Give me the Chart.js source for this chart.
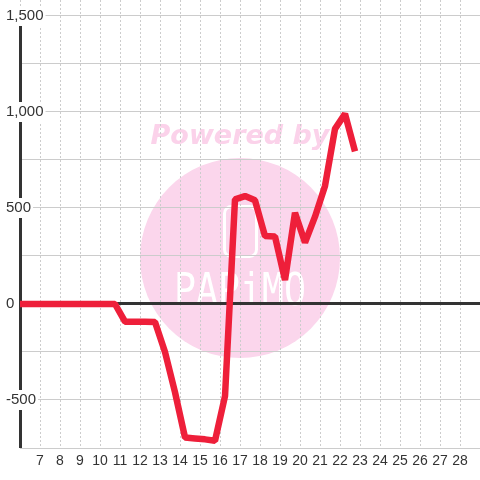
<!DOCTYPE html>
<html><head><meta charset="utf-8">
<script src="https://cdn.jsdelivr.net/npm/chart.js@4/dist/chart.umd.min.js"></script>
<style>html,body{margin:0;padding:0;background:#fff}#wrap{width:480px;height:480px}</style>
</head><body><div id="wrap"><canvas id="c" width="480" height="480"></canvas></div>
<script>
// ---- data ----
const xValues = [5.75, 6.25, 6.75, 7.25, 7.75, 8.25, 8.75, 9.25, 9.75, 10.25, 10.75,
  11.25, 11.75, 12.25, 12.75, 13.25, 13.75, 14.25, 14.75, 15.25, 15.75, 16.25,
  16.75, 17.25, 17.75, 18.25, 18.75, 19.25, 19.75, 20.25, 20.75, 21.25, 21.75, 22.25, 22.75];
const yValues = [0, 0, 0, 0, 0, 0, 0, 0, 0, 0, 0,
  -92, -92, -92, -94, -250, -460, -695, -700, -705, -712, -480,
  545, 562, 540, 354, 352, 125, 475, 320, 455, 615, 912, 990, 795];
const xTickValues = [7, 8, 9, 10, 11, 12, 13, 14, 15, 16, 17, 18, 19, 20, 21, 22, 23, 24, 25, 26, 27, 28];
const xTickLabels = ['7','8','9','10','11','12','13','14','15','16','17','18','19','20','21','22','23','24','25','26','27','28'];
const yTickValues = [-500, 0, 500, 1000, 1500];
const yTickLabels = ['-500', '0', '500', '1,000', '1,500'];
const watermarkTop = 'Powered by';
const watermarkBrand = 'PAPiMO';

const FONT = '"Liberation Sans", Arial, sans-serif';

const watermark = {
  id: 'wm',
  beforeDraw(chart) {
    const ctx = chart.ctx;
    ctx.save();
    ctx.fillStyle = '#ffffff';
    ctx.fillRect(0, 0, chart.width, chart.height);
    ctx.fillStyle = 'rgb(251,214,236)';
    ctx.beginPath(); ctx.arc(240, 258, 100, 0, Math.PI * 2); ctx.fill();
    ctx.font = 'italic bold 27px "DejaVu Sans"';
    ctx.textAlign = 'center'; ctx.textBaseline = 'alphabetic';
    ctx.fillStyle = 'rgb(251,210,234)';
    ctx.fillText(watermarkTop, 240, 144);
    ctx.strokeStyle = '#ffffff'; ctx.lineWidth = 3;
    ctx.beginPath();
    if (ctx.roundRect) ctx.roundRect(224.5, 206.5, 32, 50, 7); else ctx.rect(224.5, 206.5, 32, 50);
    ctx.stroke();
    ctx.fillStyle = '#ffffff';
    ctx.font = '44px "DejaVu Sans Mono"';
    const w = ctx.measureText(watermarkBrand).width;
    ctx.translate(240, 305);
    ctx.scale(132 / w, 1);
    ctx.fillText(watermarkBrand, 0, 0);
    ctx.restore();
  }
};

const axisLine = {
  id: 'axisLine',
  beforeDatasetsDraw(chart) {
    const ctx = chart.ctx, a = chart.chartArea, ys = chart.scales.y;
    ctx.save();
    ctx.strokeStyle = '#333333'; ctx.lineWidth = 3;
    ctx.beginPath();
    ctx.moveTo(a.left + 0.5, ys.getPixelForValue(yTickValues[yTickValues.length - 1]));
    ctx.lineTo(a.left + 0.5, a.bottom);
    ctx.stroke();
    ctx.restore();
  }
};

new Chart(document.getElementById('c'), {
  type: 'line',
  data: {
    datasets: [{
      data: xValues.map((x, i) => ({ x: x, y: yValues[i] })),
      borderColor: '#ee1f3a',
      borderWidth: 6.5,
      pointRadius: 0,
      tension: 0,
      borderJoinStyle: 'bevel',
      borderCapStyle: 'butt',
      fill: false
    }]
  },
  options: {
    responsive: false,
    animation: false,
    devicePixelRatio: 1,
    layout: { padding: { left: 6, top: 0, right: 0, bottom: 0 } },
    plugins: { legend: { display: false }, tooltip: { enabled: false } },
    scales: {
      x: {
        type: 'linear', min: 6, max: 29,
        ticks: {
          stepSize: 1, autoSkip: false, maxRotation: 0, minRotation: 0, padding: 5,
          color: '#333333', font: { family: FONT, size: 14 },
          callback: (v) => { const i = xTickValues.indexOf(v); return i >= 0 ? xTickLabels[i] : ''; }
        },
        grid: { color: '#cccccc', lineWidth: 1, drawTicks: false },
        border: { display: false, dash: [2, 2] },
        afterFit(s) { s.height = 32; s.paddingLeft = 0; s.paddingRight = 0; }
      },
      y: {
        type: 'linear', min: -750, max: 1583.333,
        ticks: {
          stepSize: 250, includeBounds: false, autoSkip: false, mirror: true, padding: -14, z: 1,
          color: '#333333', font: { family: FONT, size: 15 },
          showLabelBackdrop: (c) => !!(c.tick && yTickValues.includes(c.tick.value)),
          backdropColor: '#ffffff',
          backdropPadding: { left: 2, right: 2, top: 1, bottom: 1 },
          callback: (v) => { const i = yTickValues.indexOf(v); return i >= 0 ? yTickLabels[i] : ''; }
        },
        grid: {
          color: (c) => (c.tick && c.tick.value === 0) ? '#333333' : '#cccccc',
          lineWidth: (c) => (c.tick && c.tick.value === 0) ? 3 : 1,
          drawTicks: false
        },
        border: { display: false },
        afterFit(s) { s.width = 14; s.paddingTop = 0; s.paddingBottom = 0; }
      }
    }
  },
  plugins: [watermark, axisLine]
});
</script>
</body></html>
